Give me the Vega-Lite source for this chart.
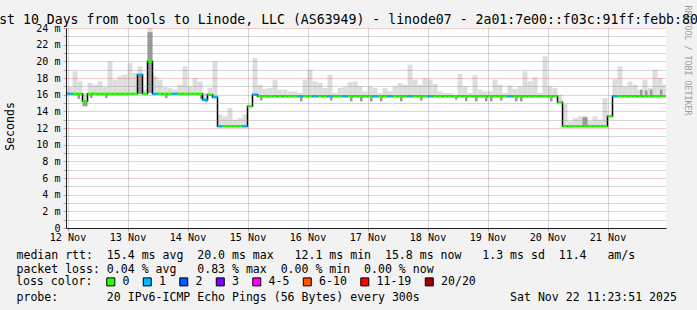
{
  "$schema": "https://vega.github.io/schema/vega-lite/v6.json",
  "width": 600,
  "height": 200,
  "autosize": {"type": "none"},
  "padding": {"left": 66, "top": 28, "right": 31, "bottom": 82},
  "background": "#f2f2f2",
  "title": {"text": "st 10 Days from tools to Linode, LLC (AS63949) - linode07 - 2a01:7e00::f03c:91ff:febb:80", "anchor": "middle", "frame": "group", "dx": -17.5, "dy": 37.5, "font": "DejaVu Sans Mono", "fontSize": 13.2, "fontWeight": "normal", "color": "#000000", "baseline": "alphabetic", "offset": 5.5},
  "config": {"view": {"fill": "#ffffff", "stroke": null}},
  "datasets": {
    "main": [
      {"t":"2025-11-12T10:00Z","e":"2025-11-12T12:00Z","m":16.1,"h":17.0,"c":"1"},
      {"t":"2025-11-12T12:00Z","e":"2025-11-12T14:00Z","m":16.1,"h":16.9,"c":"1"},
      {"t":"2025-11-12T14:00Z","e":"2025-11-12T16:00Z","m":16.1,"h":18.8,"c":"0"},
      {"t":"2025-11-12T16:00Z","e":"2025-11-12T18:00Z","m":16.1,"h":17.6,"c":"0"},
      {"t":"2025-11-12T18:00Z","e":"2025-11-12T20:00Z","m":15.2,"h":16.2,"c":"0"},
      {"t":"2025-11-12T20:00Z","e":"2025-11-12T22:00Z","m":16.1,"h":17.4,"c":"0"},
      {"t":"2025-11-12T22:00Z","e":"2025-11-13T00:00Z","m":16.1,"h":17.2,"c":"0"},
      {"t":"2025-11-13T00:00Z","e":"2025-11-13T02:00Z","m":16.1,"h":17.6,"c":"0"},
      {"t":"2025-11-13T02:00Z","e":"2025-11-13T04:00Z","m":16.1,"h":16.9,"c":"0"},
      {"t":"2025-11-13T04:00Z","e":"2025-11-13T06:00Z","m":16.1,"h":20.0,"c":"0"},
      {"t":"2025-11-13T06:00Z","e":"2025-11-13T08:00Z","m":16.1,"h":17.8,"c":"0"},
      {"t":"2025-11-13T08:00Z","e":"2025-11-13T10:00Z","m":16.1,"h":18.2,"c":"0"},
      {"t":"2025-11-13T10:00Z","e":"2025-11-13T12:00Z","m":16.1,"h":18.4,"c":"0"},
      {"t":"2025-11-13T12:00Z","e":"2025-11-13T14:00Z","m":16.1,"h":19.8,"c":"0"},
      {"t":"2025-11-13T14:00Z","e":"2025-11-13T16:00Z","m":16.1,"h":18.6,"c":"0"},
      {"t":"2025-11-13T16:00Z","e":"2025-11-13T18:00Z","m":18.4,"h":19.4,"c":"1"},
      {"t":"2025-11-13T18:00Z","e":"2025-11-13T20:00Z","m":16.1,"h":16.6,"c":"0"},
      {"t":"2025-11-13T20:00Z","e":"2025-11-13T22:00Z","m":20.0,"h":24.0,"c":"0"},
      {"t":"2025-11-13T22:00Z","e":"2025-11-14T00:00Z","m":16.1,"h":18.2,"c":"1"},
      {"t":"2025-11-14T00:00Z","e":"2025-11-14T02:00Z","m":16.1,"h":17.8,"c":"0"},
      {"t":"2025-11-14T02:00Z","e":"2025-11-14T04:00Z","m":16.1,"h":16.9,"c":"0"},
      {"t":"2025-11-14T04:00Z","e":"2025-11-14T06:00Z","m":16.1,"h":16.8,"c":"0"},
      {"t":"2025-11-14T06:00Z","e":"2025-11-14T08:00Z","m":16.1,"h":16.6,"c":"1"},
      {"t":"2025-11-14T08:00Z","e":"2025-11-14T10:00Z","m":16.1,"h":17.2,"c":"0"},
      {"t":"2025-11-14T10:00Z","e":"2025-11-14T12:00Z","m":16.1,"h":19.4,"c":"0"},
      {"t":"2025-11-14T12:00Z","e":"2025-11-14T14:00Z","m":16.1,"h":17.0,"c":"0"},
      {"t":"2025-11-14T14:00Z","e":"2025-11-14T16:00Z","m":16.1,"h":18.0,"c":"0"},
      {"t":"2025-11-14T16:00Z","e":"2025-11-14T18:00Z","m":16.1,"h":17.6,"c":"0"},
      {"t":"2025-11-14T18:00Z","e":"2025-11-14T20:00Z","m":15.4,"h":16.2,"c":"1"},
      {"t":"2025-11-14T20:00Z","e":"2025-11-14T22:00Z","m":16.0,"h":16.8,"c":"0"},
      {"t":"2025-11-14T22:00Z","e":"2025-11-15T00:00Z","m":15.7,"h":20.0,"c":"1"},
      {"t":"2025-11-15T00:00Z","e":"2025-11-15T02:00Z","m":12.2,"h":13.6,"c":"1"},
      {"t":"2025-11-15T02:00Z","e":"2025-11-15T04:00Z","m":12.2,"h":13.4,"c":"0"},
      {"t":"2025-11-15T04:00Z","e":"2025-11-15T06:00Z","m":12.2,"h":14.4,"c":"0"},
      {"t":"2025-11-15T06:00Z","e":"2025-11-15T08:00Z","m":12.2,"h":13.0,"c":"0"},
      {"t":"2025-11-15T08:00Z","e":"2025-11-15T10:00Z","m":12.2,"h":13.2,"c":"0"},
      {"t":"2025-11-15T10:00Z","e":"2025-11-15T12:00Z","m":12.2,"h":13.6,"c":"1"},
      {"t":"2025-11-15T12:00Z","e":"2025-11-15T14:00Z","m":14.6,"h":14.8,"c":"0"},
      {"t":"2025-11-15T14:00Z","e":"2025-11-15T16:00Z","m":16.0,"h":20.4,"c":"1"},
      {"t":"2025-11-15T16:00Z","e":"2025-11-15T18:00Z","m":15.8,"h":17.2,"c":"0"},
      {"t":"2025-11-15T18:00Z","e":"2025-11-15T20:00Z","m":15.8,"h":16.7,"c":"0"},
      {"t":"2025-11-15T20:00Z","e":"2025-11-15T22:00Z","m":15.8,"h":16.8,"c":"0"},
      {"t":"2025-11-15T22:00Z","e":"2025-11-16T00:00Z","m":15.8,"h":17.8,"c":"0"},
      {"t":"2025-11-16T00:00Z","e":"2025-11-16T02:00Z","m":15.8,"h":16.6,"c":"0"},
      {"t":"2025-11-16T02:00Z","e":"2025-11-16T04:00Z","m":15.8,"h":16.6,"c":"0"},
      {"t":"2025-11-16T04:00Z","e":"2025-11-16T06:00Z","m":15.8,"h":16.4,"c":"0"},
      {"t":"2025-11-16T06:00Z","e":"2025-11-16T08:00Z","m":15.8,"h":16.4,"c":"0"},
      {"t":"2025-11-16T08:00Z","e":"2025-11-16T10:00Z","m":15.8,"h":16.2,"c":"1"},
      {"t":"2025-11-16T10:00Z","e":"2025-11-16T12:00Z","m":15.8,"h":17.8,"c":"0"},
      {"t":"2025-11-16T12:00Z","e":"2025-11-16T14:00Z","m":15.8,"h":19.0,"c":"0"},
      {"t":"2025-11-16T14:00Z","e":"2025-11-16T16:00Z","m":15.8,"h":17.6,"c":"1"},
      {"t":"2025-11-16T16:00Z","e":"2025-11-16T18:00Z","m":15.8,"h":17.4,"c":"0"},
      {"t":"2025-11-16T18:00Z","e":"2025-11-16T20:00Z","m":15.8,"h":16.8,"c":"0"},
      {"t":"2025-11-16T20:00Z","e":"2025-11-16T22:00Z","m":15.8,"h":18.4,"c":"1"},
      {"t":"2025-11-16T22:00Z","e":"2025-11-17T00:00Z","m":15.8,"h":16.2,"c":"0"},
      {"t":"2025-11-17T00:00Z","e":"2025-11-17T02:00Z","m":15.8,"h":16.8,"c":"0"},
      {"t":"2025-11-17T02:00Z","e":"2025-11-17T04:00Z","m":15.8,"h":16.9,"c":"1"},
      {"t":"2025-11-17T04:00Z","e":"2025-11-17T06:00Z","m":15.8,"h":17.5,"c":"0"},
      {"t":"2025-11-17T06:00Z","e":"2025-11-17T08:00Z","m":15.8,"h":17.6,"c":"0"},
      {"t":"2025-11-17T08:00Z","e":"2025-11-17T10:00Z","m":15.8,"h":17.0,"c":"0"},
      {"t":"2025-11-17T10:00Z","e":"2025-11-17T12:00Z","m":15.8,"h":16.4,"c":"0"},
      {"t":"2025-11-17T12:00Z","e":"2025-11-17T14:00Z","m":15.8,"h":17.0,"c":"0"},
      {"t":"2025-11-17T14:00Z","e":"2025-11-17T16:00Z","m":15.8,"h":16.8,"c":"1"},
      {"t":"2025-11-17T16:00Z","e":"2025-11-17T18:00Z","m":15.8,"h":16.2,"c":"0"},
      {"t":"2025-11-17T18:00Z","e":"2025-11-17T20:00Z","m":15.8,"h":16.8,"c":"0"},
      {"t":"2025-11-17T20:00Z","e":"2025-11-17T22:00Z","m":15.8,"h":16.4,"c":"1"},
      {"t":"2025-11-17T22:00Z","e":"2025-11-18T00:00Z","m":15.8,"h":17.0,"c":"0"},
      {"t":"2025-11-18T00:00Z","e":"2025-11-18T02:00Z","m":15.8,"h":17.4,"c":"0"},
      {"t":"2025-11-18T02:00Z","e":"2025-11-18T04:00Z","m":15.8,"h":17.2,"c":"0"},
      {"t":"2025-11-18T04:00Z","e":"2025-11-18T06:00Z","m":15.8,"h":19.6,"c":"1"},
      {"t":"2025-11-18T06:00Z","e":"2025-11-18T08:00Z","m":15.8,"h":17.8,"c":"0"},
      {"t":"2025-11-18T08:00Z","e":"2025-11-18T10:00Z","m":15.8,"h":17.2,"c":"0"},
      {"t":"2025-11-18T10:00Z","e":"2025-11-18T12:00Z","m":15.8,"h":18.0,"c":"0"},
      {"t":"2025-11-18T12:00Z","e":"2025-11-18T14:00Z","m":15.8,"h":17.8,"c":"1"},
      {"t":"2025-11-18T14:00Z","e":"2025-11-18T16:00Z","m":15.8,"h":17.3,"c":"0"},
      {"t":"2025-11-18T16:00Z","e":"2025-11-18T18:00Z","m":15.8,"h":16.4,"c":"0"},
      {"t":"2025-11-18T18:00Z","e":"2025-11-18T20:00Z","m":15.8,"h":16.2,"c":"0"},
      {"t":"2025-11-18T20:00Z","e":"2025-11-18T22:00Z","m":15.8,"h":16.2,"c":"0"},
      {"t":"2025-11-18T22:00Z","e":"2025-11-19T00:00Z","m":15.8,"h":16.0,"c":"0"},
      {"t":"2025-11-19T00:00Z","e":"2025-11-19T02:00Z","m":15.8,"h":18.5,"c":"0"},
      {"t":"2025-11-19T02:00Z","e":"2025-11-19T04:00Z","m":15.8,"h":17.0,"c":"0"},
      {"t":"2025-11-19T04:00Z","e":"2025-11-19T06:00Z","m":15.8,"h":16.2,"c":"0"},
      {"t":"2025-11-19T06:00Z","e":"2025-11-19T08:00Z","m":15.8,"h":18.3,"c":"0"},
      {"t":"2025-11-19T08:00Z","e":"2025-11-19T10:00Z","m":15.8,"h":16.6,"c":"0"},
      {"t":"2025-11-19T10:00Z","e":"2025-11-19T12:00Z","m":15.8,"h":16.4,"c":"0"},
      {"t":"2025-11-19T12:00Z","e":"2025-11-19T14:00Z","m":15.8,"h":16.4,"c":"0"},
      {"t":"2025-11-19T14:00Z","e":"2025-11-19T16:00Z","m":15.8,"h":17.8,"c":"0"},
      {"t":"2025-11-19T16:00Z","e":"2025-11-19T18:00Z","m":15.8,"h":17.2,"c":"0"},
      {"t":"2025-11-19T18:00Z","e":"2025-11-19T20:00Z","m":15.8,"h":16.2,"c":"0"},
      {"t":"2025-11-19T20:00Z","e":"2025-11-19T22:00Z","m":15.8,"h":17.1,"c":"1"},
      {"t":"2025-11-19T22:00Z","e":"2025-11-20T00:00Z","m":15.8,"h":16.7,"c":"0"},
      {"t":"2025-11-20T00:00Z","e":"2025-11-20T02:00Z","m":15.8,"h":17.0,"c":"0"},
      {"t":"2025-11-20T02:00Z","e":"2025-11-20T04:00Z","m":15.8,"h":18.8,"c":"0"},
      {"t":"2025-11-20T04:00Z","e":"2025-11-20T06:00Z","m":15.8,"h":17.6,"c":"0"},
      {"t":"2025-11-20T06:00Z","e":"2025-11-20T08:00Z","m":15.8,"h":18.1,"c":"0"},
      {"t":"2025-11-20T08:00Z","e":"2025-11-20T10:00Z","m":15.8,"h":16.2,"c":"0"},
      {"t":"2025-11-20T10:00Z","e":"2025-11-20T12:00Z","m":15.8,"h":20.6,"c":"0"},
      {"t":"2025-11-20T12:00Z","e":"2025-11-20T14:00Z","m":15.8,"h":17.0,"c":"0"},
      {"t":"2025-11-20T14:00Z","e":"2025-11-20T16:00Z","m":15.8,"h":16.8,"c":"0"},
      {"t":"2025-11-20T16:00Z","e":"2025-11-20T18:00Z","m":15.1,"h":16.0,"c":"0"},
      {"t":"2025-11-20T18:00Z","e":"2025-11-20T20:00Z","m":12.2,"h":14.9,"c":"0"},
      {"t":"2025-11-20T20:00Z","e":"2025-11-20T22:00Z","m":12.2,"h":12.8,"c":"0"},
      {"t":"2025-11-20T22:00Z","e":"2025-11-21T00:00Z","m":12.2,"h":13.2,"c":"0"},
      {"t":"2025-11-21T00:00Z","e":"2025-11-21T02:00Z","m":12.2,"h":13.4,"c":"0"},
      {"t":"2025-11-21T02:00Z","e":"2025-11-21T04:00Z","m":12.2,"h":13.4,"c":"0"},
      {"t":"2025-11-21T04:00Z","e":"2025-11-21T06:00Z","m":12.2,"h":12.8,"c":"0"},
      {"t":"2025-11-21T06:00Z","e":"2025-11-21T08:00Z","m":12.2,"h":13.4,"c":"0"},
      {"t":"2025-11-21T08:00Z","e":"2025-11-21T10:00Z","m":12.2,"h":13.0,"c":"0"},
      {"t":"2025-11-21T10:00Z","e":"2025-11-21T12:00Z","m":12.2,"h":15.6,"c":"0"},
      {"t":"2025-11-21T12:00Z","e":"2025-11-21T14:00Z","m":13.4,"h":13.6,"c":"0"},
      {"t":"2025-11-21T14:00Z","e":"2025-11-21T16:00Z","m":15.8,"h":17.9,"c":"1"},
      {"t":"2025-11-21T16:00Z","e":"2025-11-21T18:00Z","m":15.8,"h":19.4,"c":"0"},
      {"t":"2025-11-21T18:00Z","e":"2025-11-21T20:00Z","m":15.8,"h":17.0,"c":"0"},
      {"t":"2025-11-21T20:00Z","e":"2025-11-21T22:00Z","m":15.8,"h":17.6,"c":"0"},
      {"t":"2025-11-21T22:00Z","e":"2025-11-22T00:00Z","m":15.8,"h":17.2,"c":"0"},
      {"t":"2025-11-22T00:00Z","e":"2025-11-22T02:00Z","m":15.8,"h":16.6,"c":"0"},
      {"t":"2025-11-22T02:00Z","e":"2025-11-22T04:00Z","m":15.8,"h":17.8,"c":"0"},
      {"t":"2025-11-22T04:00Z","e":"2025-11-22T06:00Z","m":15.8,"h":16.8,"c":"0"},
      {"t":"2025-11-22T06:00Z","e":"2025-11-22T08:00Z","m":15.8,"h":19.0,"c":"0"},
      {"t":"2025-11-22T08:00Z","e":"2025-11-22T10:00Z","m":15.8,"h":18.0,"c":"0"},
      {"t":"2025-11-22T10:00Z","e":"2025-11-22T12:00Z","m":15.8,"h":17.2,"c":"0"}
    ],
    "dark": [
      {"t":"2025-11-12T16:00Z","e":"2025-11-12T17:00Z","l":15.5,"d":16.1},
      {"t":"2025-11-12T18:00Z","e":"2025-11-12T20:00Z","l":14.6,"d":15.2},
      {"t":"2025-11-12T21:00Z","e":"2025-11-12T22:00Z","l":15.6,"d":16.1},
      {"t":"2025-11-13T03:00Z","e":"2025-11-13T04:00Z","l":15.6,"d":16.1},
      {"t":"2025-11-13T16:00Z","e":"2025-11-13T18:00Z","l":16.1,"d":18.4},
      {"t":"2025-11-13T20:00Z","e":"2025-11-13T22:00Z","l":16.2,"d":23.5},
      {"t":"2025-11-14T03:00Z","e":"2025-11-14T04:00Z","l":15.6,"d":16.1},
      {"t":"2025-11-14T17:00Z","e":"2025-11-14T18:00Z","l":15.5,"d":16.1},
      {"t":"2025-11-14T19:00Z","e":"2025-11-14T20:00Z","l":15.1,"d":15.4},
      {"t":"2025-11-15T17:00Z","e":"2025-11-15T18:00Z","l":15.3,"d":15.8},
      {"t":"2025-11-16T09:00Z","e":"2025-11-16T10:00Z","l":15.2,"d":15.8},
      {"t":"2025-11-16T21:00Z","e":"2025-11-16T22:00Z","l":15.3,"d":15.8},
      {"t":"2025-11-17T05:00Z","e":"2025-11-17T06:00Z","l":15.2,"d":15.8},
      {"t":"2025-11-17T09:00Z","e":"2025-11-17T10:00Z","l":15.2,"d":15.8},
      {"t":"2025-11-17T13:00Z","e":"2025-11-17T14:00Z","l":15.2,"d":15.8},
      {"t":"2025-11-17T17:00Z","e":"2025-11-17T18:00Z","l":15.2,"d":15.8},
      {"t":"2025-11-18T01:00Z","e":"2025-11-18T02:00Z","l":15.2,"d":15.8},
      {"t":"2025-11-18T09:00Z","e":"2025-11-18T10:00Z","l":15.3,"d":15.8},
      {"t":"2025-11-18T23:00Z","e":"2025-11-19T00:00Z","l":15.4,"d":15.8},
      {"t":"2025-11-19T03:00Z","e":"2025-11-19T04:00Z","l":15.2,"d":15.8},
      {"t":"2025-11-19T07:00Z","e":"2025-11-19T08:00Z","l":15.2,"d":15.8},
      {"t":"2025-11-19T11:00Z","e":"2025-11-19T12:00Z","l":15.2,"d":15.8},
      {"t":"2025-11-19T13:00Z","e":"2025-11-19T14:00Z","l":15.2,"d":15.8},
      {"t":"2025-11-19T17:00Z","e":"2025-11-19T18:00Z","l":15.3,"d":15.8},
      {"t":"2025-11-19T23:00Z","e":"2025-11-20T00:00Z","l":15.2,"d":15.8},
      {"t":"2025-11-20T01:00Z","e":"2025-11-20T02:00Z","l":15.2,"d":15.8},
      {"t":"2025-11-20T13:00Z","e":"2025-11-20T14:00Z","l":15.2,"d":15.8},
      {"t":"2025-11-21T02:00Z","e":"2025-11-21T04:00Z","l":12.2,"d":13.3},
      {"t":"2025-11-22T01:00Z","e":"2025-11-22T02:00Z","l":15.8,"d":16.6},
      {"t":"2025-11-22T03:00Z","e":"2025-11-22T04:00Z","l":15.8,"d":16.5},
      {"t":"2025-11-22T05:00Z","e":"2025-11-22T06:00Z","l":15.8,"d":16.6},
      {"t":"2025-11-22T09:00Z","e":"2025-11-22T10:00Z","l":15.8,"d":16.6}
    ]
  },
  "data": {"name": "main"},
  "resolve": {"axis": {"y": "independent"}},
  "layer": [
    {
      "mark": {"type": "rect", "color": "#dddddd", "clip": true},
      "encoding": {
        "x": {
          "field": "t", "type": "temporal",
          "scale": {"type": "utc", "nice": false, "domain": [1762946631000, 1763810631000]},
          "axis": {
            "orient": "bottom",
            "values": [1762948800000, 1762970400000, 1762992000000, 1763013600000, 1763035200000, 1763056800000, 1763078400000, 1763100000000, 1763121600000, 1763143200000, 1763164800000, 1763186400000, 1763208000000, 1763229600000, 1763251200000, 1763272800000, 1763294400000, 1763316000000, 1763337600000, 1763359200000, 1763380800000, 1763402400000, 1763424000000, 1763445600000, 1763467200000, 1763488800000, 1763510400000, 1763532000000, 1763553600000, 1763575200000, 1763596800000, 1763618400000, 1763640000000, 1763661600000, 1763683200000, 1763704800000, 1763726400000, 1763748000000, 1763769600000, 1763791200000],
            "labelExpr": "utchours(datum.value) == 12 ? utcFormat(datum.value, '%d %b') : ''",
            "labelFont": "DejaVu Sans Mono", "labelFontSize": 10.1, "labelColor": "#000000", "labelPadding": 1,
            "labelOverlap": false, "labelFlush": false, "labelBound": false,
            "tickSize": 3,
            "tickColor": {"condition": {"test": "utchours(datum.value) == 0", "value": "rgba(222,79,79,0.6)"}, "value": "rgba(143,143,143,0.75)"},
            "domainColor": "#1f1f1f",
            "grid": true,
            "gridColor": {"condition": {"test": "utchours(datum.value) == 0", "value": "rgba(222,79,79,0.6)"}, "value": "rgba(143,143,143,0.75)"},
            "gridDash": [1, 1], "gridOpacity": 1,
            "title": [
              "median\u00a0rtt:\u00a0\u00a015.4\u00a0ms\u00a0avg\u00a0\u00a020.0\u00a0ms\u00a0max\u00a0\u00a0\u00a012.1\u00a0ms\u00a0min\u00a0\u00a015.8\u00a0ms\u00a0now\u00a0\u00a0\u00a01.3\u00a0ms\u00a0sd\u00a0\u00a011.4\u00a0\u00a0\u00a0am/s",
              "packet\u00a0loss:\u00a00.04\u00a0%\u00a0avg\u00a0\u00a0\u00a00.83\u00a0%\u00a0max\u00a0\u00a00.00\u00a0%\u00a0min\u00a0\u00a00.00\u00a0%\u00a0now",
              "\u2800",
              "probe:\u00a0\u00a0\u00a0\u00a0\u00a0\u00a0\u00a020\u00a0IPv6-ICMP\u00a0Echo\u00a0Pings\u00a0(56\u00a0Bytes)\u00a0every\u00a0300s\u00a0\u00a0\u00a0\u00a0\u00a0\u00a0\u00a0\u00a0\u00a0\u00a0\u00a0\u00a0\u00a0Sat\u00a0Nov\u00a022\u00a011:23:51\u00a02025"
            ],
            "titleFont": "DejaVu Sans Mono", "titleFontSize": 11.56, "titleFontWeight": "normal", "titleColor": "#000000",
            "titleAlign": "left", "titleAnchor": "start", "titleBaseline": "alphabetic", "titleLineHeight": 14,
            "titleX": -50, "titleY": 30.2,
            "zindex": 1
          }
        },
        "x2": {"field": "e"},
        "y": {
          "field": "m", "type": "quantitative",
          "scale": {"domain": [0, 24], "nice": false, "zero": false},
          "axis": {
            "orient": "left",
            "values": [0,1,2,3,4,5,6,7,8,9,10,11,12,13,14,15,16,17,18,19,20,21,22,23,24],
            "labelExpr": "datum.value % 2 ? '' : (datum.value == 0 ? '0' : datum.value + ' m')",
            "labelFont": "DejaVu Sans Mono", "labelFontSize": 10.1, "labelColor": "#000000", "labelPadding": 3,
            "labelOverlap": false, "labelBound": false,
            "tickSize": 3,
            "tickColor": {"condition": {"test": "datum.value % 2 == 0", "value": "rgba(222,79,79,0.6)"}, "value": "rgba(143,143,143,0.75)"},
            "domainColor": "#1f1f1f",
            "grid": true,
            "gridColor": {"condition": {"test": "datum.value % 2 == 0", "value": "rgba(222,79,79,0.6)"}, "value": "rgba(143,143,143,0.75)"},
            "gridDash": [1, 1], "gridOpacity": 1,
            "title": "Seconds",
            "titleFont": "DejaVu Sans Mono", "titleFontSize": 11.56, "titleFontWeight": "normal", "titleColor": "#000000",
            "titleX": -56, "titleY": 98, "titleAngle": 270, "titleAlign": "center", "titleBaseline": "middle",
            "zindex": 1
          }
        },
        "y2": {"field": "h"}
      }
    },
    {
      "data": {"name": "dark"},
      "mark": {"type": "rect", "color": "#9a9a9a", "clip": true},
      "encoding": {
        "x": {"field": "t", "type": "temporal"},
        "x2": {"field": "e"},
        "y": {"field": "l", "type": "quantitative", "axis": null},
        "y2": {"field": "d"}
      }
    },
    {
      "mark": {"type": "line", "interpolate": "step-after", "color": "#000000", "strokeWidth": 1.5, "clip": true},
      "encoding": {
        "x": {"field": "t", "type": "temporal"},
        "y": {"field": "m", "type": "quantitative", "axis": null}
      }
    },
    {
      "mark": {"type": "tick", "orient": "horizontal", "thickness": 2.5, "size": 5, "xOffset": 2.5, "opacity": 1, "clip": true},
      "encoding": {
        "x": {"field": "t", "type": "temporal"},
        "y": {
          "field": "m", "type": "quantitative",
          "axis": {
            "orient": "right", "labels": false, "ticks": false, "domain": false, "grid": false,
            "title": "RRDTOOL / TOBI OETIKER",
            "titleFont": "DejaVu Sans Mono", "titleFontSize": 8.3, "titleFontWeight": "normal", "titleColor": "#9a9a9a",
            "titleAngle": 90, "titleX": 20, "titleY": 32, "titleAlign": "center", "titleBaseline": "middle"
          }
        },
        "color": {
          "field": "c", "type": "nominal",
          "scale": {"domain": ["0", "1", "2", "3", "4-5", "6-10", "11-19", "20/20"], "range": ["#26ff00", "#00b8ff", "#0059ff", "#7e00ff", "#ff00ff", "#ff5500", "#ff0000", "#a10000"]},
          "legend": {
            "orient": "none", "legendX": -50, "legendY": 248, "direction": "horizontal",
            "title": "loss color:", "titleOrient": "left",
            "titleFont": "DejaVu Sans Mono", "titleFontSize": 11.56, "titleFontWeight": "normal", "titleColor": "#000000", "titlePadding": 12,
            "labelFont": "DejaVu Sans Mono", "labelFontSize": 11.56, "labelColor": "#000000", "labelOffset": 6,
            "columnPadding": 10.5, "symbolType": "square", "symbolSize": 64,
            "symbolStrokeColor": "#000000", "symbolStrokeWidth": 1, "symbolOpacity": 1, "padding": 0
          }
        }
      }
    }
  ]
}
